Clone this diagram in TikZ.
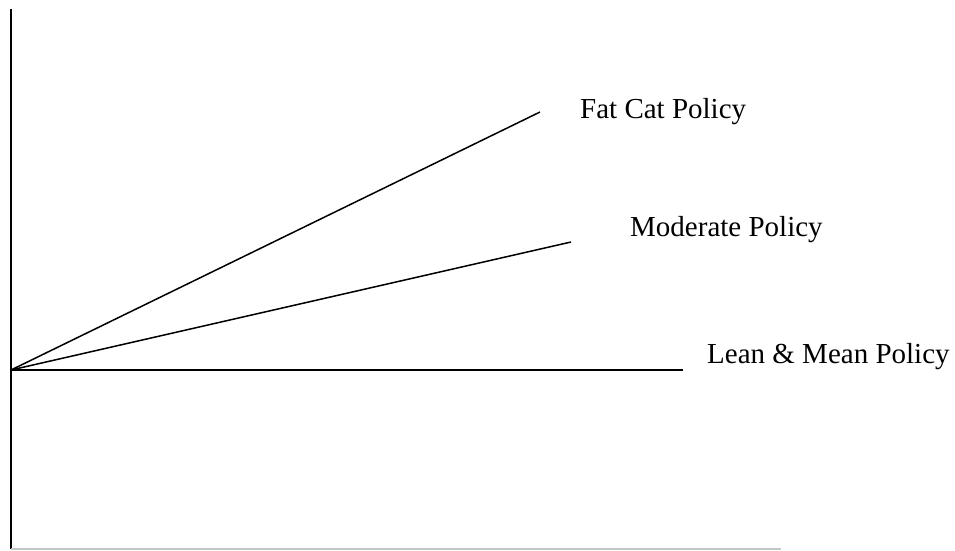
\documentclass[tikz,border=0pt]{standalone}
\usepackage{fontspec}
\setmainfont{Liberation Serif}
\usetikzlibrary{positioning,calc}

\begin{document}
\begin{tikzpicture}[x=1pt,y=-1pt,
    policy/.style={line width=1.5pt},
    lbl/.style={anchor=base west,inner sep=0pt,font=\fontsize{29}{34}\selectfont}]
    \useasboundingbox (0,0) rectangle (955,550);

    \coordinate (top) at (11,9);
    \coordinate (o) at (11,370);
    \coordinate (bot) at (11,549);
    \coordinate (xend) at (781,549);

    \coordinate (fat) at (540,112);
    \coordinate (mod) at (571,242);
    \coordinate (lean) at (683,370);

    \node [lbl] (fatlbl) at ($(fat) + (40,6)$) {Fat Cat Policy};
    \node [lbl] (modlbl) at ($(mod) + (59,-6)$) {Moderate Policy};
    \node [lbl] (leanlbl) at ($(lean) + (24,-7)$) {Lean \& Mean Policy};

    % axes
    \draw [line width=2pt] (top) -- (bot);
    \draw [line width=1.5pt, gray!45] (bot) -- (xend);

    \path [policy]
        (o) edge (fat)
        (o) edge (mod)
        (o) edge (lean);
\end{tikzpicture}
\end{document}
